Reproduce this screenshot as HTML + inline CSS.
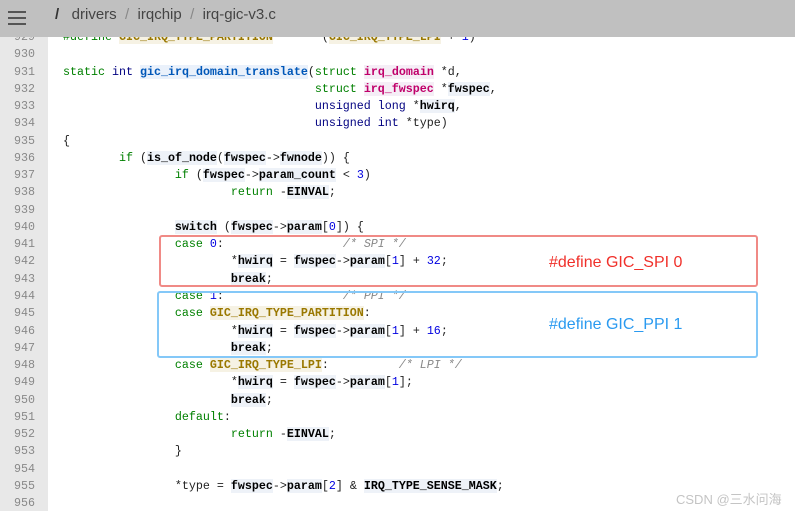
<!DOCTYPE html>
<html><head><meta charset="utf-8"><style>
body{margin:0;width:795px;height:511px;overflow:hidden;background:#fff;position:relative;font-family:"Liberation Sans",sans-serif}
#gut{position:absolute;left:0;top:0;width:48px;height:511px;background:#e8e8e8}
#code{position:absolute;left:0;top:29px;margin:0;font-family:"Liberation Mono",monospace;font-size:11.67px;line-height:17.27px;color:#222;white-space:pre}
.ln{display:inline-block;width:35px;text-align:right;color:#888;margin-right:28px}
.k{color:#008000}.t{color:#000080}.b{font-weight:bold;color:#000;background:#eef2f8}
.f{font-weight:bold;color:#0057b8;background:#eaf1fb}.s{font-weight:bold;color:#c0006a;background:#f5eef6}
.m{font-weight:bold;color:#9a7800;background:#f6f2e4}.n{color:#0000e0}.c{color:#888;font-style:italic}
#bar{position:absolute;left:0;top:0;width:795px;height:37px;background:#c0c0c0}
#bar .h{position:absolute;left:8px;width:18px;height:2px;background:#555}
#crumb{position:absolute;left:55px;top:6px;font-size:15px;color:#444}
.box{position:absolute;border:2px solid;border-radius:3px;box-sizing:border-box}
.lbl{position:absolute;font-size:16px}
</style></head><body>
<div id="gut"></div>
<pre id="code"><span class="ln">929</span><span class="k">#define</span> <span class="m">GIC_IRQ_TYPE_PARTITION</span>       (<span class="m">GIC_IRQ_TYPE_LPI</span> + <span class="n">1</span>)
<span class="ln">930</span>
<span class="ln">931</span><span class="k">static</span> <span class="t">int</span> <span class="f">gic_irq_domain_translate</span>(<span class="k">struct</span> <span class="s">irq_domain</span> *d,
<span class="ln">932</span>                                    <span class="k">struct</span> <span class="s">irq_fwspec</span> *<span class="b">fwspec</span>,
<span class="ln">933</span>                                    <span class="t">unsigned long</span> *<span class="b">hwirq</span>,
<span class="ln">934</span>                                    <span class="t">unsigned int</span> *type)
<span class="ln">935</span>{
<span class="ln">936</span>        <span class="k">if</span> (<span class="b">is_of_node</span>(<span class="b">fwspec</span>-&gt;<span class="b">fwnode</span>)) {
<span class="ln">937</span>                <span class="k">if</span> (<span class="b">fwspec</span>-&gt;<span class="b">param_count</span> &lt; <span class="n">3</span>)
<span class="ln">938</span>                        <span class="k">return</span> -<span class="b">EINVAL</span>;
<span class="ln">939</span>
<span class="ln">940</span>                <span class="b">switch</span> (<span class="b">fwspec</span>-&gt;<span class="b">param</span>[<span class="n">0</span>]) {
<span class="ln">941</span>                <span class="k">case</span> <span class="n">0</span>:                 <span class="c">/* SPI */</span>
<span class="ln">942</span>                        *<span class="b">hwirq</span> = <span class="b">fwspec</span>-&gt;<span class="b">param</span>[<span class="n">1</span>] + <span class="n">32</span>;
<span class="ln">943</span>                        <span class="b">break</span>;
<span class="ln">944</span>                <span class="k">case</span> <span class="n">1</span>:                 <span class="c">/* PPI */</span>
<span class="ln">945</span>                <span class="k">case</span> <span class="m">GIC_IRQ_TYPE_PARTITION</span>:
<span class="ln">946</span>                        *<span class="b">hwirq</span> = <span class="b">fwspec</span>-&gt;<span class="b">param</span>[<span class="n">1</span>] + <span class="n">16</span>;
<span class="ln">947</span>                        <span class="b">break</span>;
<span class="ln">948</span>                <span class="k">case</span> <span class="m">GIC_IRQ_TYPE_LPI</span>:          <span class="c">/* LPI */</span>
<span class="ln">949</span>                        *<span class="b">hwirq</span> = <span class="b">fwspec</span>-&gt;<span class="b">param</span>[<span class="n">1</span>];
<span class="ln">950</span>                        <span class="b">break</span>;
<span class="ln">951</span>                <span class="k">default</span>:
<span class="ln">952</span>                        <span class="k">return</span> -<span class="b">EINVAL</span>;
<span class="ln">953</span>                }
<span class="ln">954</span>
<span class="ln">955</span>                *type = <span class="b">fwspec</span>-&gt;<span class="b">param</span>[<span class="n">2</span>] &amp; <span class="b">IRQ_TYPE_SENSE_MASK</span>;
<span class="ln">956</span></pre>
<div id="bar">
<div class="h" style="top:11px"></div><div class="h" style="top:17px"></div><div class="h" style="top:23px"></div>
<div id="crumb"><b style="color:#333">/</b>&nbsp;&nbsp; drivers &nbsp;<span style="color:#888">/</span>&nbsp; irqchip &nbsp;<span style="color:#888">/</span>&nbsp; irq-gic-v3.c</div>
</div>
<div class="box" style="left:159px;top:235px;width:599px;height:52px;border-color:#f08a86"></div>
<div class="box" style="left:157px;top:291px;width:601px;height:67px;border-color:#84c8f8"></div>
<div class="lbl" style="left:549px;top:254px;color:#f0302a">#define GIC_SPI 0</div>
<div class="lbl" style="left:549px;top:316px;color:#2a9af0">#define GIC_PPI 1</div>
<div style="position:absolute;left:676px;top:489px;font-size:13px;color:#c4c4c4;font-family:'Liberation Sans','Noto Sans CJK SC',sans-serif">CSDN @三水问海</div>
</body></html>
